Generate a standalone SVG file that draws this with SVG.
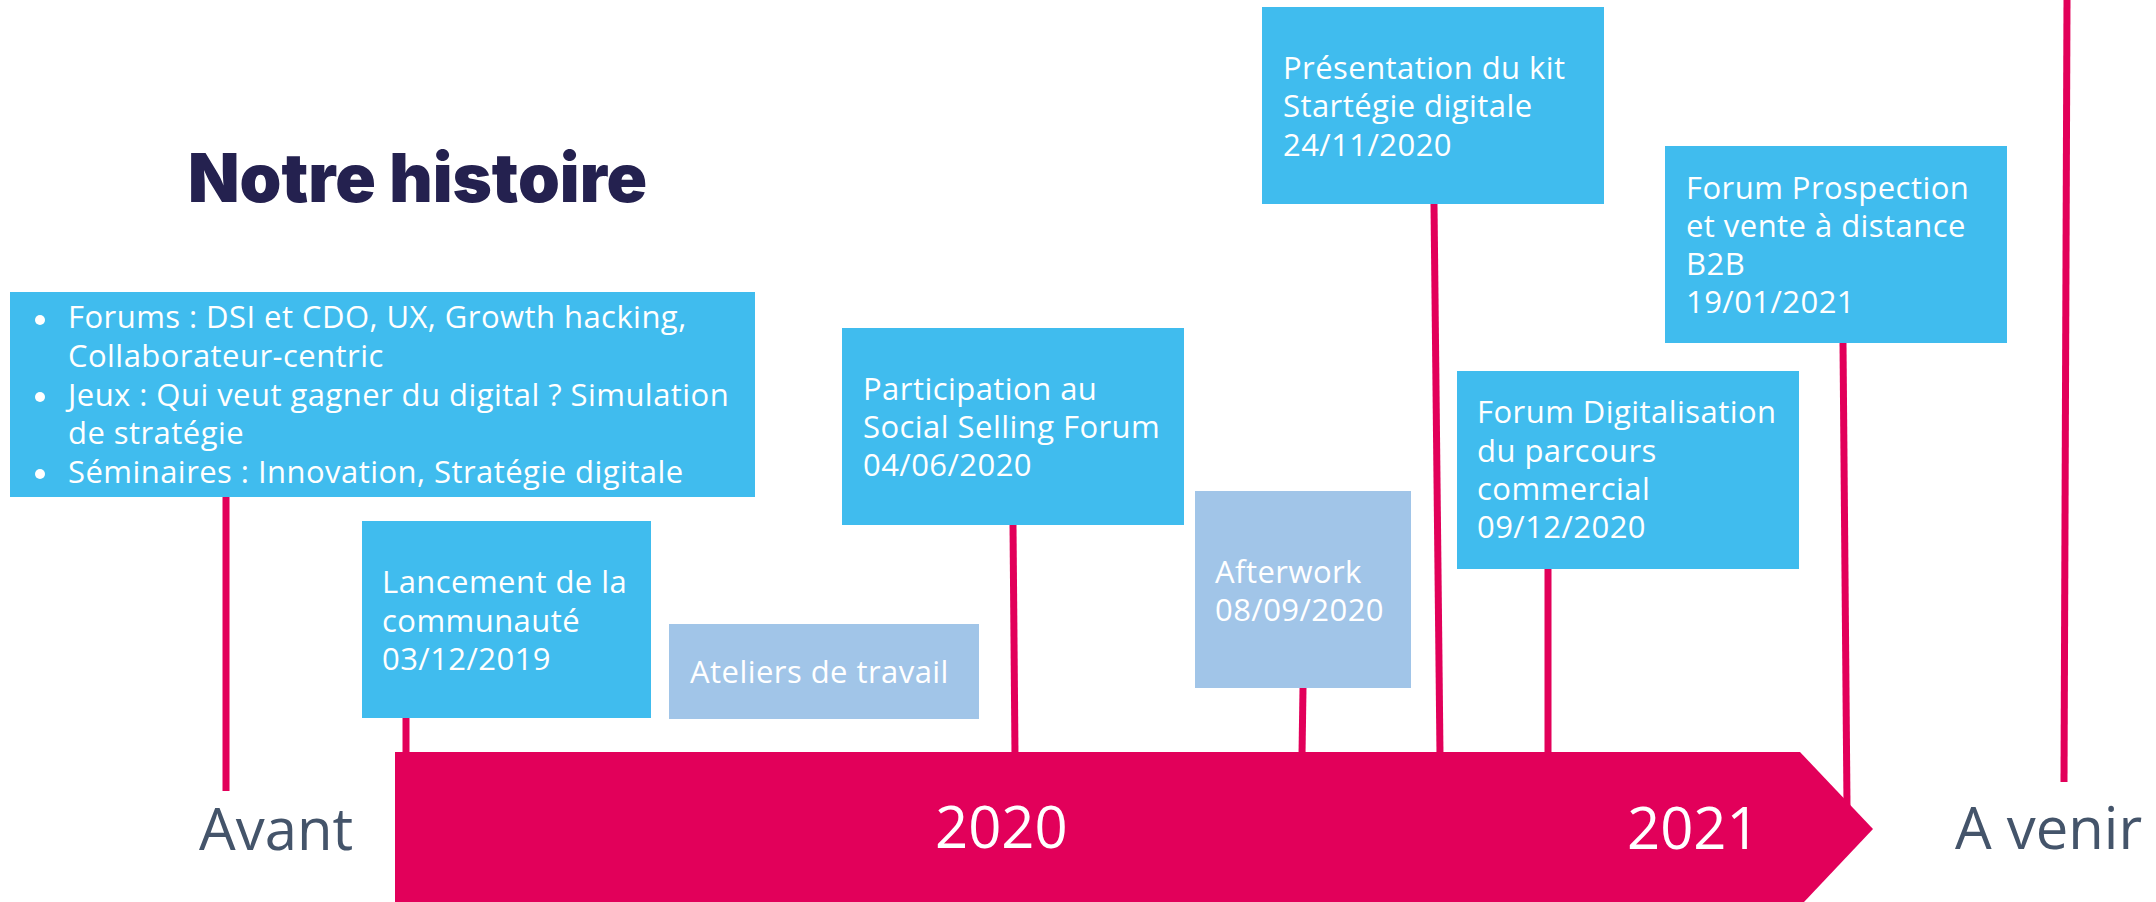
<svg xmlns="http://www.w3.org/2000/svg" width="2156" height="902" viewBox="0 0 2156 902">
<style>
.box{fill:#40BCEE}
.lbox{fill:#A1C5E8}
.t{font-family:"Open Sans","Liberation Sans",sans-serif;font-size:31px;letter-spacing:0.45px;fill:#FFFFFF}
.ax{font-family:"Open Sans","Liberation Sans",sans-serif;font-size:58px;fill:#44546A}
.yr{font-family:"Open Sans","Liberation Sans",sans-serif;font-size:58px;fill:#FFFFFF}
.ln{stroke:#E2005A;stroke-width:7;fill:none}
</style>
<rect width="2156" height="902" fill="#FFFFFF"/>
<g id="title"><text x="188" y="202" font-family="Inter, 'Liberation Sans', sans-serif" font-weight="900" font-size="67" fill="#24214F">Notre histoire</text></g>
<g id="connectors">
<line class="ln" x1="226" y1="497" x2="226" y2="791"/>
<line class="ln" x1="406" y1="718" x2="406" y2="755"/>
<line class="ln" x1="1013" y1="525" x2="1015" y2="755"/>
<line class="ln" x1="1303" y1="688" x2="1302" y2="755"/>
<line class="ln" x1="1434" y1="204" x2="1440" y2="755"/>
<line class="ln" x1="1548" y1="569" x2="1548" y2="755"/>
<line class="ln" x1="1843" y1="343" x2="1847" y2="806"/>
<line class="ln" x1="2067" y1="0" x2="2064" y2="782"/>
</g>
<g id="timeline">
<polygon points="395,752 1800,752 1873,829 1804,902 395,902" fill="#E2005A"/>
<text class="yr" x="935" y="848">2020</text>
<text class="yr" x="1627" y="849">2021</text>
</g>
<g id="avant"><text class="ax" x="199" y="850">Avant</text></g>
<g id="avenir"><text class="ax" x="1955" y="849">A venir</text></g>
<g id="before-events">
<rect class="box" x="10" y="292" width="745" height="205"/>
<circle cx="40" cy="320" r="5" fill="#FFFFFF"/>
<circle cx="40" cy="397" r="5" fill="#FFFFFF"/>
<circle cx="40" cy="474" r="5" fill="#FFFFFF"/>
<text class="t" x="68" y="328">Forums : DSI et CDO, UX, Growth hacking,</text>
<text class="t" x="68" y="367">Collaborateur-centric</text>
<text class="t" x="68" y="406">Jeux : Qui veut gagner du digital ? Simulation</text>
<text class="t" x="68" y="444">de stratégie</text>
<text class="t" x="68" y="483">Séminaires : Innovation, Stratégie digitale</text>
</g>
<g id="lancement">
<rect class="box" x="362" y="521" width="289" height="197"/>
<text class="t" x="382" y="593">Lancement de la</text>
<text class="t" x="382" y="632">communauté</text>
<text class="t" x="382" y="670">03/12/2019</text>
</g>
<g id="ateliers">
<rect class="lbox" x="669" y="624" width="310" height="95"/>
<text class="t" x="690" y="683">Ateliers de travail</text>
</g>
<g id="participation">
<rect class="box" x="842" y="328" width="342" height="197"/>
<text class="t" x="863" y="400">Participation au</text>
<text class="t" x="863" y="438">Social Selling Forum</text>
<text class="t" x="863" y="476">04/06/2020</text>
</g>
<g id="afterwork">
<rect class="lbox" x="1195" y="491" width="216" height="197"/>
<text class="t" x="1215" y="583">Afterwork</text>
<text class="t" x="1215" y="621">08/09/2020</text>
</g>
<g id="presentation">
<rect class="box" x="1262" y="7" width="342" height="197"/>
<text class="t" x="1283" y="79">Présentation du kit</text>
<text class="t" x="1283" y="117">Startégie digitale</text>
<text class="t" x="1283" y="156">24/11/2020</text>
</g>
<g id="digitalisation">
<rect class="box" x="1457" y="371" width="342" height="198"/>
<text class="t" x="1477" y="423">Forum Digitalisation</text>
<text class="t" x="1477" y="462">du parcours</text>
<text class="t" x="1477" y="500">commercial</text>
<text class="t" x="1477" y="538">09/12/2020</text>
</g>
<g id="prospection">
<rect class="box" x="1665" y="146" width="342" height="197"/>
<text class="t" x="1686" y="199">Forum Prospection</text>
<text class="t" x="1686" y="237">et vente à distance</text>
<text class="t" x="1686" y="275">B2B</text>
<text class="t" x="1686" y="313">19/01/2021</text>
</g>
</svg>
